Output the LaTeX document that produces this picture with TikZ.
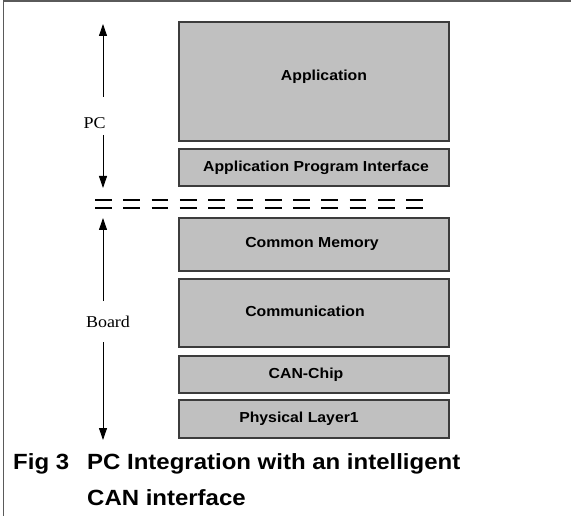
\documentclass[tikz,border=0pt]{standalone}
\usepackage{fontspec}
\setmainfont{Liberation Serif}
\newfontfamily\labelsans{Liberation Sans}
\usetikzlibrary{arrows.meta}
\definecolor{layerfill}{HTML}{C0C0C0}
\definecolor{layeredge}{HTML}{3C3C3C}
\definecolor{frameedge}{HTML}{5A5A5A}
\newcommand\widetext[1]{\scalebox{1.09}[1]{#1}}
\tikzset{
  layer/.style={draw=layeredge, fill=layerfill, line width=1.1pt, inner sep=0pt},
  layertext/.style={font=\labelsans\bfseries\fontsize{14.5}{17}\selectfont, inner sep=0pt},
  sidetext/.style={font=\fontsize{16.5}{19}\selectfont, inner sep=0pt},
  captext/.style={font=\labelsans\bfseries\fontsize{22}{26}\selectfont, inner sep=0pt, anchor=base west},
  span/.style={line width=0.9pt, -{Triangle[length=12pt,width=8pt]}},
  divider/.style={line width=2pt, dash pattern=on 16.7pt off 11.6pt}
}
\begin{document}
\begin{tikzpicture}[x=1pt, y=-1pt]
\useasboundingbox (0,0) rectangle (571,516);
% frame (top and left edges only)
\draw[frameedge, line width=1.5pt] (3.5,516) -- (3.5,1.2) -- (571,1.2);

% protocol layers
\node[layer, minimum width=270pt, minimum height=119pt] (app)  at (314,81.5)  {};
\node[layer, minimum width=270pt, minimum height=37pt]  (api)  at (314,167.5) {};
\node[layer, minimum width=270pt, minimum height=53pt]  (cmem) at (314,244.5) {};
\node[layer, minimum width=270pt, minimum height=68pt]  (comm) at (314,313)   {};
\node[layer, minimum width=270pt, minimum height=37pt]  (chip) at (314,374.5) {};
\node[layer, minimum width=270pt, minimum height=38pt]  (phys) at (314,419)   {};

\node[layertext] (appT)  at (324,77)    {\widetext{Application}};
\node[layertext] (apiT)  at (316,167.5) {\widetext{Application Program Interface}};
\node[layertext] (cmemT) at (312,243.5) {\widetext{Common Memory}};
\node[layertext] (commT) at (305,311)   {\widetext{Communication}};
\node[layertext] (chipT) at (306,375)   {\widetext{CAN-Chip}};
\node[layertext] (physT) at (299,419)   {\widetext{Physical Layer1}};

% PC / board boundary
\coordinate (divL1) at (95,200.5);  \coordinate (divR1) at (424,200.5);
\coordinate (divL2) at (95,208.5);  \coordinate (divR2) at (424,208.5);
\draw[divider] (divL1) -- (divR1);
\draw[divider] (divL2) -- (divR2);

% PC span
\node[sidetext] (pc) at (94.5,123) {\widetext{PC}};
\coordinate (pcTop)   at (103,24);
\coordinate (pcUp)    at (103,97);
\coordinate (pcDown)  at (103,135);
\coordinate (pcBot)   at (103,188);
\draw[span] (pcUp) -- (pcTop);
\draw[span] (pcDown) -- (pcBot);

% board span
\node[sidetext] (board) at (108,322) {\widetext{Board}};
\coordinate (bdTop)  at (103,218);
\coordinate (bdUp)   at (103,301);
\coordinate (bdDown) at (103,342);
\coordinate (bdBot)  at (103,440);
\draw[span] (bdUp) -- (bdTop);
\draw[span] (bdDown) -- (bdBot);

% caption
\node[captext] (fig)  at (13,469.5) {\widetext{Fig 3}};
\node[captext] (cap1) at (87,469.5) {\widetext{PC Integration with an intelligent}};
\node[captext] (cap2) at (87,505.5) {\widetext{CAN interface}};
\end{tikzpicture}
\end{document}
